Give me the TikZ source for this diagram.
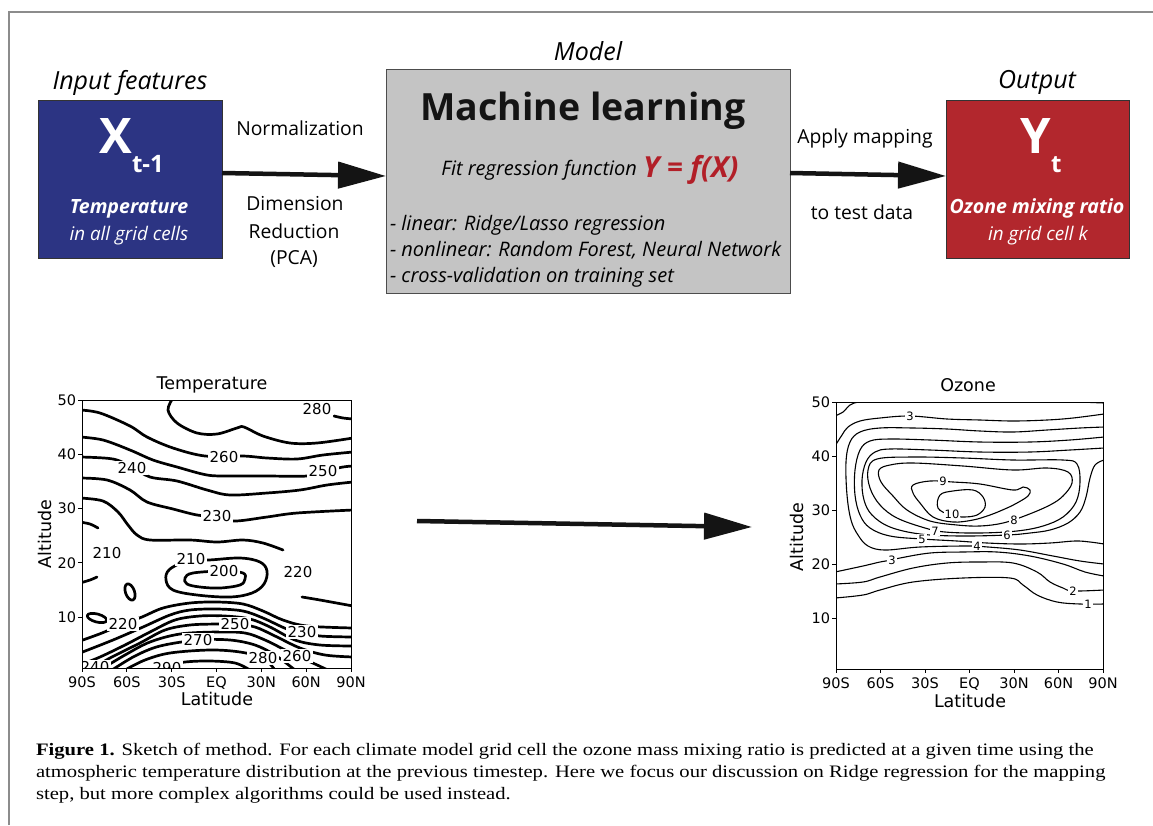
\documentclass[tikz,border=0pt]{standalone}
\usepackage{fontspec}
\setmainfont{Open Sans}
\newfontfamily\dv{DejaVu Sans}
\newfontfamily\capf[FakeStretch=1.18]{Liberation Serif}
\usetikzlibrary{arrows.meta}
\definecolor{xblue}{HTML}{2C3483}
\definecolor{yred}{HTML}{B2272D}
\definecolor{mlgray}{HTML}{C4C4C4}
\definecolor{fred}{HTML}{B21F28}
\definecolor{framegray}{HTML}{8C8C8C}
\newcommand\fsz[1]{\fontsize{#1}{#1}\selectfont}
\begin{document}
\begin{tikzpicture}[x=1pt,y=-1pt,
  every node/.style={inner sep=0pt, outer sep=0pt},
  bigarrow/.style={line width=4.5pt, draw=black!92, -{Triangle[length=48pt,width=26pt]}},
  tline/.style={line width=2.7pt, line join=round, line cap=round},
  oline/.style={line width=1.1pt, line join=round},
  clab/.style={font=\dv\fsz{15}, fill=white, inner sep=1.5pt},
  olab/.style={font=\dv\fsz{11.5}, fill=white, inner sep=1pt},
  ticklab/.style={font=\dv\fsz{14.5}},
  axlab/.style={font=\dv\fsz{17.5}},
  lbl/.style={font=\fsz{19.3}, anchor=base},
  head/.style={font=\itshape\fsz{25}, anchor=base},
  whitetxt/.style={text=white, anchor=base},
  capnode/.style={font=\capf\fsz{17.5}, anchor=base west},
  boxbase/.style={anchor=north west, inner sep=0pt, line width=0.9pt}
]
\useasboundingbox (0,0) rectangle (1153,825);
\fill[white] (0,0) rectangle (1153,825);
% frame
\draw[framegray, line width=1.3pt] (9,825) -- (9,12) -- (1153,12);

% ---------------- top boxes
\node[boxbase, draw=black!80, fill=xblue, minimum width=184pt, minimum height=158pt] (inp) at (38,100) {};
\node[boxbase, draw=black!70, fill=mlgray, minimum width=404pt, minimum height=224pt] (ml) at (386,69) {};
\node[boxbase, draw=black!80, fill=yred, minimum width=183pt, minimum height=158pt] (out) at (946,100) {};

\node[head] (hin) at (130,89) {Input features};
\node[head] (hml) at (588,60) {Model};
\node[head] (hout) at (1037,88) {Output};

\node[whitetxt, font=\bfseries\fsz{49}] (xx) at (116,153) {X};
\node[whitetxt, font=\bfseries\fsz{24}, anchor=base west] (xsub) at (132,172) {t-1};
\node[whitetxt, font=\bfseries\itshape\fsz{19.6}] (xt1) at (129,213) {Temperature};
\node[whitetxt, font=\itshape\fsz{18.8}] (xt2) at (129,240) {in all grid cells};

\node[whitetxt, font=\bfseries\fsz{49}] (yy) at (1036,153) {Y};
\node[whitetxt, font=\bfseries\fsz{24}, anchor=base west] (ysub) at (1051,172) {t};
\node[whitetxt, font=\bfseries\itshape\fsz{19.6}] (yt1) at (1037,213) {Ozone mixing ratio};
\node[whitetxt, font=\itshape\fsz{18.8}] (yt2) at (1038,240) {in grid cell k};

\node[anchor=base, font=\bfseries\fsz{37.5}, text=black!92] (mlt) at (583,120) {Machine learning};
\node[anchor=base east, font=\itshape\fsz{20}] (fit) at (637,175) {Fit regression function};
\node[anchor=base west, font=\bfseries\itshape\fsz{29}, text=fred] (fx) at (643,177) {Y = f(X)};
\node[anchor=base west, font=\itshape\fsz{20}] (b1) at (390,230) {- linear: Ridge/Lasso regression};
\node[anchor=base west, font=\itshape\fsz{20}] (b2) at (390,256) {- nonlinear: Random Forest, Neural Network};
\node[anchor=base west, font=\itshape\fsz{20}] (b3) at (390,282) {- cross-validation on training set};

\node[lbl] (nrm) at (300,135) {Normalization};
\node[lbl] (dim1) at (295,210) {Dimension};
\node[lbl] (dim2) at (294,238) {Reduction};
\node[lbl] (dim3) at (294,264) {(PCA)};
\node[lbl] (app) at (865,143) {Apply mapping};
\node[lbl] (ttd) at (862,219) {to test data};

\draw[bigarrow] ([yshift=6pt]inp.east) -- ([yshift=5pt]ml.west);
\draw[bigarrow] ([yshift=8pt]ml.east) -- ([yshift=3pt]out.west);

% middle arrow
\coordinate (ms) at (417,521);
\coordinate (me) at (752,527);
\draw[bigarrow] (ms) -- (me);

% ---------------- Temperature plot
\node[axlab, anchor=base] (ttl) at (212,389) {Temperature};
\node[axlab, anchor=base] (tlat) at (217,705) {Latitude};
\node[axlab, rotate=90] (talt) at (45,534) {Altitude};
\foreach \v in {10,20,30,40,50}{
  \draw[line width=0.8pt] (78,{400+(50-\v)*5.425}) -- (82,{400+(50-\v)*5.425});
  \node[ticklab, anchor=east] at (76,{400+(50-\v)*5.425}) {\v};
}
\foreach \l [count=\i from 0] in {90S,60S,30S,EQ,30N,60N,90N}{
  \draw[line width=0.8pt] ({82+\i*44.83},668) -- ({82+\i*44.83},672);
  \node[ticklab, anchor=base] at ({82+\i*44.83},687) {\l};
}
\begin{scope}
\clip (82,400) rectangle (351,668);
\draw[tline] plot[smooth, tension=0.55] coordinates {(173,398) (168,410) (177,423) (197,433) (217,434) (237,428) (244,427) (263,436) (290,443) (317,443) (353,438)};
\draw[tline] plot[smooth] coordinates {(334,416) (343,418) (353,419)};
\draw[tline] plot[smooth, tension=0.55] coordinates {(80,410) (100,413) (130,426) (147,437) (173,448) (205,456) (243,456) (267,458) (297,459) (323,455) (353,452)};
\draw[tline] plot[smooth, tension=0.55] coordinates {(80,437) (103,440) (130,450) (153,460) (177,467) (207,475) (230,476) (267,476) (307,476) (325,471) (343,467) (353,466)};
\draw[tline] plot[smooth, tension=0.55] coordinates {(80,457) (113,459) (132,467) (150,477) (177,481) (207,490) (230,495) (267,493) (300,490) (327,485) (353,482)};
\draw[tline] plot[smooth, tension=0.55] coordinates {(80,478) (107,480) (130,490) (147,502) (173,509) (197,515) (217,517) (235,521) (267,517) (297,513) (353,510)};
\draw[tline] plot[smooth, tension=0.55] coordinates {(80,498) (103,501) (118,512) (128,525) (137,535) (150,540) (190,540) (217,542) (243,540) (263,543) (283,550)};
\draw[tline] plot[smooth] coordinates {(80,522) (90,524) (98,528)};
\draw[tline] plot[smooth] coordinates {(80,583) (90,580) (97,577)};
\draw[tline] plot[smooth cycle, tension=0.6] coordinates {(192,559) (208,560) (240,558) (260,562) (267,571) (264,584) (252,593) (230,597) (197,595) (173,590) (166,580) (170,569)};
\draw[tline] plot[smooth cycle, tension=0.6] coordinates {(224,571) (243,573) (245,579) (240,585) (220,588) (200,587) (187,584) (185,578) (193,573)};
\draw[tline, rotate around={20:(130,592)}] (130,592) ellipse [x radius=4.5, y radius=8.5];
\draw[tline, rotate around={-15:(97,618)}] (97,618) ellipse [x radius=10, y radius=4];
\draw[tline] plot[smooth] coordinates {(302,597) (320,600) (353,606)};
% bottom arches
\draw[tline] plot[smooth, tension=0.55] coordinates {(80,641) (102,633) (123,624) (142,617) (163,608) (190,603) (217,602) (243,604) (263,611) (283,620) (307,626) (353,628)};
\draw[tline] plot[smooth, tension=0.55] coordinates {(80,653) (113,640) (143,627) (170,615) (190,610) (217,609) (243,611) (263,618) (287,629) (302,632) (320,636) (353,637)};
\draw[tline] plot[smooth, tension=0.55] coordinates {(80,665) (100,657) (125,645) (150,632) (175,620) (200,616) (225,616) (250,619) (270,627) (295,640) (320,645) (353,646)};
\draw[tline] plot[smooth, tension=0.55] coordinates {(90,670) (110,658) (140,643) (165,630) (190,625) (217,624) (235,624) (255,627) (275,636) (300,648) (325,655) (353,657)};
\draw[tline] plot[smooth, tension=0.55] coordinates {(100,670) (125,655) (150,642) (180,634) (217,632) (245,633) (265,640) (285,650) (297,656) (315,664) (330,671)};
\draw[tline] plot[smooth, tension=0.55] coordinates {(112,670) (135,656) (160,646) (198,640) (230,640) (255,645) (275,655) (295,670)};
\draw[tline] plot[smooth, tension=0.55] coordinates {(125,670) (145,660) (170,653) (210,650) (240,652) (263,658) (275,670)};
\draw[tline] plot[smooth, tension=0.55] coordinates {(150,670) (165,666) (185,662) (210,661) (235,663) (250,670)};
% labels
\node[clab] at (317,409) {280};
\node[clab] at (224,457) {260};
\node[clab] at (323,471) {250};
\node[clab] at (132,468) {240};
\node[clab] at (217,516) {230};
\node[clab] at (107,553) {210};
\node[clab] at (191,559) {210};
\node[clab] at (224,571) {200};
\node[clab] at (298,572) {220};
\node[clab] at (123,624) {220};
\node[clab] at (235,624) {250};
\node[clab] at (302,632) {230};
\node[clab] at (198,640) {270};
\node[clab] at (263,658) {280};
\node[clab] at (297,656) {260};
\node[clab] at (95,667) {240};
\node[clab] at (167,668) {290};
\end{scope}
\draw[line width=0.8pt] (82,400) rectangle (351,668);

% ---------------- Ozone plot
\node[axlab, anchor=base] (ottl) at (968,391) {Ozone};
\node[axlab, anchor=base] (olat) at (970,707) {Latitude};
\node[axlab, rotate=90] (oalt) at (797,537) {Altitude};
\foreach \v in {10,20,30,40,50}{
  \draw[line width=0.8pt] (832,{402+(50-\v)*5.4}) -- (836,{402+(50-\v)*5.4});
  \node[ticklab, anchor=east] at (830,{402+(50-\v)*5.4}) {\v};
}
\foreach \l [count=\i from 0] in {90S,60S,30S,EQ,30N,60N,90N}{
  \draw[line width=0.8pt] ({836+\i*44.5},669) -- ({836+\i*44.5},673);
  \node[ticklab, anchor=base] at ({836+\i*44.5},688) {\l};
}
\begin{scope}
\clip (836,402) rectangle (1103,669);
\draw[oline] plot[smooth] coordinates {(835,416) (843,412) (850,405) (858,402) (873,400)};
\draw[oline] plot[smooth] coordinates {(1060,401) (1080,402) (1104,403)};
\draw[oline] plot[smooth, tension=0.6] coordinates {(835,446) (842,435) (848,427) (860,421) (880,418) (910,416) (947,419) (980,420) (1013,421) (1047,420) (1073,418) (1104,414)};
\draw[oline] plot[smooth, tension=0.6] coordinates {(1104,427) (1080,428) (1047,430) (1013,432) (980,431) (947,429) (913,428) (880,428) (860,432) (850,442) (846,462) (847,495) (851,520) (858,535) (868,546) (885,550) (920,547) (967,546) (988,547) (1020,550) (1053,556) (1080,561) (1104,564)};
\draw[oline] plot[smooth, tension=0.6] coordinates {(1104,437) (1070,440) (1030,442) (980,442) (930,440) (890,439) (870,441) (860,450) (855,470) (855,495) (860,515) (870,528) (890,536) (922,539) (957,541) (987,543) (1020,544) (1050,543) (1075,541) (1090,542) (1104,544)};
\draw[oline] plot[smooth, tension=0.6] coordinates {(1104,448) (1070,450) (1030,452) (980,452) (930,450) (890,449) (875,452) (866,462) (862,480) (864,500) (872,515) (890,527) (920,534) (960,536) (1007,535) (1030,533) (1050,530) (1068,523) (1080,512) (1086,497) (1090,478) (1095,465) (1104,460)};
\draw[oline] plot[smooth cycle, tension=0.6] coordinates {(877,459) (913,457) (963,458) (1013,460) (1063,460) (1077,464) (1080,482) (1076,502) (1063,517) (1043,526) (1017,531) (980,533) (945,532) (925,528) (897,518) (880,505) (870,488) (868,470)};
\draw[oline] plot[smooth cycle, tension=0.6] coordinates {(890,465) (913,463) (963,466) (1013,470) (1047,468) (1068,472) (1072,483) (1063,496) (1050,505) (1027,515) (1003,523) (980,526) (957,525) (930,521) (907,510) (893,496) (881,482) (879,470)};
\draw[oline] plot[smooth cycle, tension=0.6] coordinates {(930,481) (953,482) (980,484) (1013,490) (1023,487) (1030,490) (1028,496) (1017,503) (1007,508) (990,515) (973,520) (953,522) (933,517) (920,503) (913,493) (913,485)};
\draw[oline] plot[smooth cycle, tension=0.6] coordinates {(940,495) (953,491) (973,490) (983,497) (985,507) (977,515) (963,517) (950,515) (938,508)};
\draw[oline] plot[smooth, tension=0.6] coordinates {(835,572) (863,566) (880,562) (892,560) (900,558) (930,553) (963,552) (997,552) (1030,556) (1063,564) (1085,572) (1104,576)};
\draw[oline] plot[smooth, tension=0.6] coordinates {(835,584) (863,582) (880,577) (913,568) (947,563) (980,562) (1013,563) (1037,572) (1050,582) (1063,588) (1073,591) (1104,590)};
\draw[oline] plot[smooth, tension=0.6] coordinates {(835,598) (863,595) (880,590) (913,582) (963,578) (1010,578) (1023,585) (1037,595) (1057,602) (1080,604) (1104,604)};
\node[olab] at (910,416) {3};
\node[olab] at (943,481) {9};
\node[olab] at (952,514) {10};
\node[olab] at (1014,520) {8};
\node[olab] at (935,531) {7};
\node[olab] at (1007,535) {6};
\node[olab] at (922,539) {5};
\node[olab] at (977,546) {4};
\node[olab] at (892,560) {3};
\node[olab] at (1073,591) {2};
\node[olab] at (1088,604) {1};
\end{scope}
\draw[line width=0.8pt] (836,402) rectangle (1103,669);

% ---------------- caption
\node[capnode] (cap1) at (36,755) {\textbf{Figure 1.} Sketch of method. For each climate model grid cell the ozone mass mixing ratio is predicted at a given time using the};
\node[capnode] (cap2) at (36,777) {atmospheric temperature distribution at the previous timestep. Here we focus our discussion on Ridge regression for the mapping};
\node[capnode] (cap3) at (36,799) {step, but more complex algorithms could be used instead.};
\end{tikzpicture}
\end{document}
